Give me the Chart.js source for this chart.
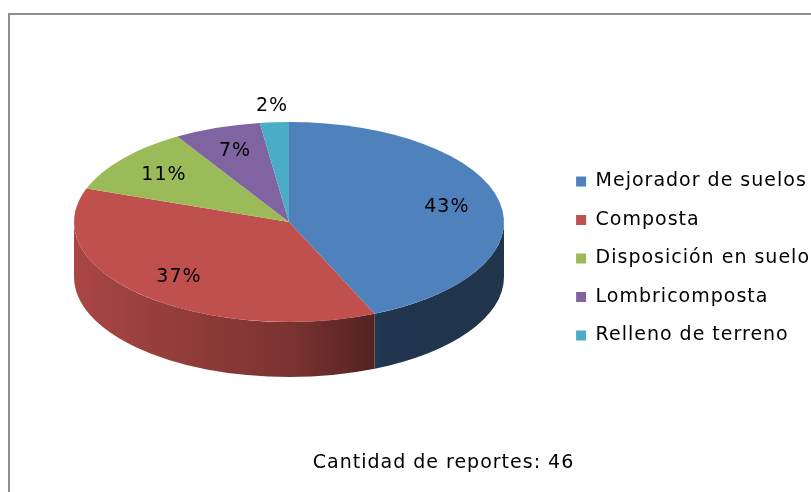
<!DOCTYPE html>
<html>
<head>
<meta charset="utf-8">
<script src="https://cdn.jsdelivr.net/npm/chart.js@4/dist/chart.umd.min.js"></script>
<style>
  html, body { margin: 0; padding: 0; background: #fff; }
  #wrap { position: relative; width: 811px; height: 492px; overflow: hidden; }
  #frame { position: absolute; left: 8px; top: 13px; width: 820px; height: 500px;
           border-top: 2px solid #8e8e8e; border-left: 2px solid #8e8e8e; }
  #chart { position: absolute; left: 0; top: 0; }
</style>
</head>
<body>
<div id="wrap">
  <div id="frame"></div>
  <canvas id="chart" width="811" height="492"></canvas>
</div>
<script>
const categorias = ['Mejorador de suelos', 'Composta', 'Disposición en suelo', 'Lombricomposta', 'Relleno de terreno'];
const reportes = [20, 17, 5, 3, 1];
const colores = ['#4f81bd', '#c0504d', '#9bbb59', '#8064a2', '#4bacc6'];
const totalReportes = reportes.reduce((a, b) => a + b, 0);

// where the tilted pie sits on the page
const CX = 289, CY = 222, RX = 215, RY = 100, DEPTH = 55;

function shade(hex, f) {
    const n = parseInt(hex.slice(1), 16);
    const r = Math.round(((n >> 16) & 255) * f);
    const g = Math.round(((n >> 8) & 255) * f);
    const b = Math.round((n & 255) * f);
    return `rgb(${r},${g},${b})`;
}

// wider text, like the old office rendering
const spacing = {
    id: 'spacing',
    beforeUpdate(chart) { chart.ctx.letterSpacing = '1px'; },
    beforeDraw(chart) { chart.ctx.letterSpacing = '1px'; }
};

const pie3d = {
    id: 'pie3d',
    beforeDatasetsDraw(chart) {
        const ctx = chart.ctx;
        const meta = chart.getDatasetMeta(0);
        const first = meta.data[0];

        // side walls, only the front half can be seen
        meta.data.forEach((arc, i) => {
            const a1 = Math.max(arc.startAngle, 0);
            const a2 = Math.min(arc.endAngle, Math.PI);
            if (a2 <= a1) return;
            const grad = ctx.createLinearGradient(CX - RX, 0, CX + RX, 0);
            grad.addColorStop(0, shade(colores[i], 0.88));
            grad.addColorStop(0.5, shade(colores[i], 0.64));
            grad.addColorStop(0.72, shade(colores[i], 0.41));
            grad.addColorStop(1, shade(colores[i], 0.4));
            ctx.save();
            ctx.beginPath();
            ctx.ellipse(CX, CY, RX, RY, 0, a1, a2, false);
            ctx.lineTo(CX + RX * Math.cos(a2), CY + DEPTH + RY * Math.sin(a2));
            ctx.ellipse(CX, CY + DEPTH, RX, RY, 0, a2, a1, true);
            ctx.closePath();
            ctx.fillStyle = grad;
            ctx.fill();
            ctx.restore();
        });

        // squash the top face into an ellipse
        ctx.save();
        ctx.translate(CX, CY);
        ctx.scale(RX / first.outerRadius, RY / first.outerRadius);
        ctx.translate(-first.x, -first.y);
    },
    afterDatasetsDraw(chart) {
        const ctx = chart.ctx;
        ctx.restore();
        const meta = chart.getDatasetMeta(0);
        ctx.save();
        ctx.font = '19px "DejaVu Sans"';
        ctx.fillStyle = '#000';
        ctx.textAlign = 'center';
        ctx.textBaseline = 'middle';
        meta.data.forEach((arc, i) => {
            const frac = reportes[i] / totalReportes;
            const mid = (arc.startAngle + arc.endAngle) / 2;
            const k = frac < 0.05 ? 1.16 : 0.75;
            const x = CX + RX * k * Math.cos(mid);
            const y = CY + RY * k * Math.sin(mid);
            ctx.fillText(Math.round(frac * 100) + '%', x, y);
        });
        ctx.restore();
    }
};

const canvas = document.getElementById('chart');

new Chart(canvas, {
    type: 'pie',
    data: {
        labels: categorias,
        datasets: [{
            data: reportes,
            backgroundColor: colores,
            borderWidth: 0,
            clip: false
        }]
    },
    options: {
        responsive: false,
        animation: false,
        layout: { padding: { left: 67, top: 25, right: -9 } },
        plugins: {
            legend: {
                position: 'right',
                labels: {
                    boxWidth: 10,
                    boxHeight: 10,
                    padding: 19.5,
                    color: '#000',
                    font: { family: '"DejaVu Sans"', size: 19 }
                }
            },
            title: {
                display: true,
                position: 'bottom',
                text: 'Cantidad de reportes: ' + totalReportes,
                color: '#000',
                font: { family: '"DejaVu Sans"', size: 19, weight: 'normal' },
                padding: { top: 0, bottom: 18 }
            },
            tooltip: { enabled: false }
        }
    },
    plugins: [spacing, pie3d]
});
</script>
</body>
</html>
